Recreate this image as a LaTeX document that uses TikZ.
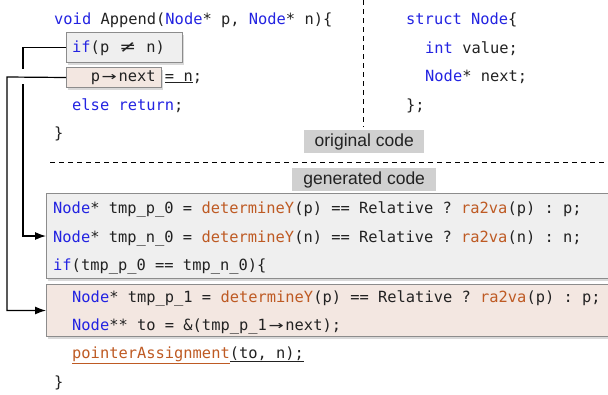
\documentclass[tikz,border=0pt]{standalone}
\usepackage{fontspec}
\usepackage{graphicx}
\usepackage{tikz}
\usetikzlibrary{arrows.meta,shadows}
\newfontfamily\codefont{DejaVu Sans Mono}
\newfontfamily\tagfont{Liberation Sans}
\definecolor{ink}{RGB}{34,34,34}
\definecolor{kwblue}{RGB}{35,35,225}
\definecolor{fnorange}{RGB}{190,90,35}
\definecolor{gengray}{RGB}{239,239,239}
\definecolor{movebeige}{RGB}{243,231,225}
\definecolor{boxline}{RGB}{140,140,140}
\definecolor{taggray}{RGB}{208,208,208}
\newcommand{\kw}[1]{\textcolor{kwblue}{#1}}
\newcommand{\fn}[1]{\textcolor{fnorange}{#1}}
\newcommand{\lig}[1]{\makebox[1.204em][c]{\scalebox{1.6}[1.05]{#1}}}
\tikzset{
	code/.style={anchor=base west, inner sep=0pt, text=ink, font=\codefont\fontsize{15.4pt}{18pt}\selectfont\frenchspacing},
	hlbox/.style={draw=boxline, line width=1pt, anchor=north west, inner sep=0pt, drop shadow={shadow xshift=1pt, shadow yshift=-2pt, opacity=0.3}},
	tag/.style={fill=taggray, anchor=north west, inner sep=0pt, text=ink, font=\tagfont\fontsize{17.5pt}{20pt}\selectfont},
	link/.style={line width=1.2pt, black},
	rule/.style={line width=1pt, dash pattern=on 5pt off 4pt}
}

\begin{document}
\begin{tikzpicture}[x=1pt, y=-1pt]
			\useasboundingbox (0,0) rectangle (608,394);
			\clip (0,0) rectangle (608,394);
			
			%%%%% ORIGINAL %%%%%
			
			\node[hlbox, fill=gengray, minimum width=116pt, minimum height=30pt] (ifbox) at (66,32) {};
			\node[hlbox, fill=movebeige, minimum width=95pt, minimum height=20pt] (nextbox) at (66,67) {};
			
			\node[code] (o1) at (54,24) {\kw{void} Append(\kw{Node}* p, \kw{Node}* n)\{};
			\node[code] (o2) at (72,52) {\kw{if}(p \lig{≠} n)};
			\node[code] (o3) at (90.6,81) {p\lig{→}next \underline{= n};};
			\node[code] (o4) at (72,110) {\kw{else} \kw{return};};
			\node[code] (o5) at (54,138) {\}};
			
			\node[code] (s1) at (406,24) {\kw{struct} \kw{Node}\{};
			\node[code] (s2) at (425,53) {\kw{int} value;};
			\node[code] (s3) at (425,81) {\kw{Node}* next;};
			\node[code] (s4) at (406,110) {\};};
			
			\draw[rule] (363,0) -- (363,127);
			\node[tag, minimum width=120pt, minimum height=23pt] (origtag) at (304,130) {original code};
			
			%%%%% GENERATED %%%%%
			
			\draw[rule] (50,162) -- (608,162);
			\node[tag, minimum width=144pt, minimum height=23pt] (gentag) at (292,168) {generated code};
			
			\node[hlbox, fill=gengray, minimum width=570pt, minimum height=85pt] (genbox) at (46,193) {};
			\node[hlbox, fill=movebeige, minimum width=570pt, minimum height=52pt] (movebox) at (46,284) {};
			
			\node[code] (g1) at (53,213) {\kw{Node}* tmp\_p\_0 = \fn{determineY}(p) == Relative ? \fn{ra2va}(p) : p;};
			\node[code] (g2) at (53,242) {\kw{Node}* tmp\_n\_0 = \fn{determineY}(n) == Relative ? \fn{ra2va}(n) : n;};
			\node[code] (g3) at (53,270) {\kw{if}(tmp\_p\_0 == tmp\_n\_0)\{};
			\node[code] (g4) at (72,302) {\kw{Node}* tmp\_p\_1 = \fn{determineY}(p) == Relative ? \fn{ra2va}(p) : p;};
			\node[code] (g5) at (72,330) {\kw{Node}** to = \&(tmp\_p\_1\lig{→}next);};
			\node[code] (g6) at (72,358) {\fn{\underline{pointerAssignment}}\underline{(to, n);}};
			\node[code] (g7) at (54,387) {\}};
			
			%%%%% LINKS %%%%%
			
			\coordinate (hopA) at (23,69);
			\coordinate (hopB) at (23,84);
			\coordinate (railB) at (7,77);
			\draw[link] (ifbox.west) -| (hopA);
			\draw[link, -{Latex[length=11pt, width=8pt]}] (hopB) |- (genbox.west);
			\draw[link, -{Latex[length=11pt, width=8pt]}] (nextbox.west) -- (railB) |- (movebox.west);
			
\end{tikzpicture}
\end{document}
